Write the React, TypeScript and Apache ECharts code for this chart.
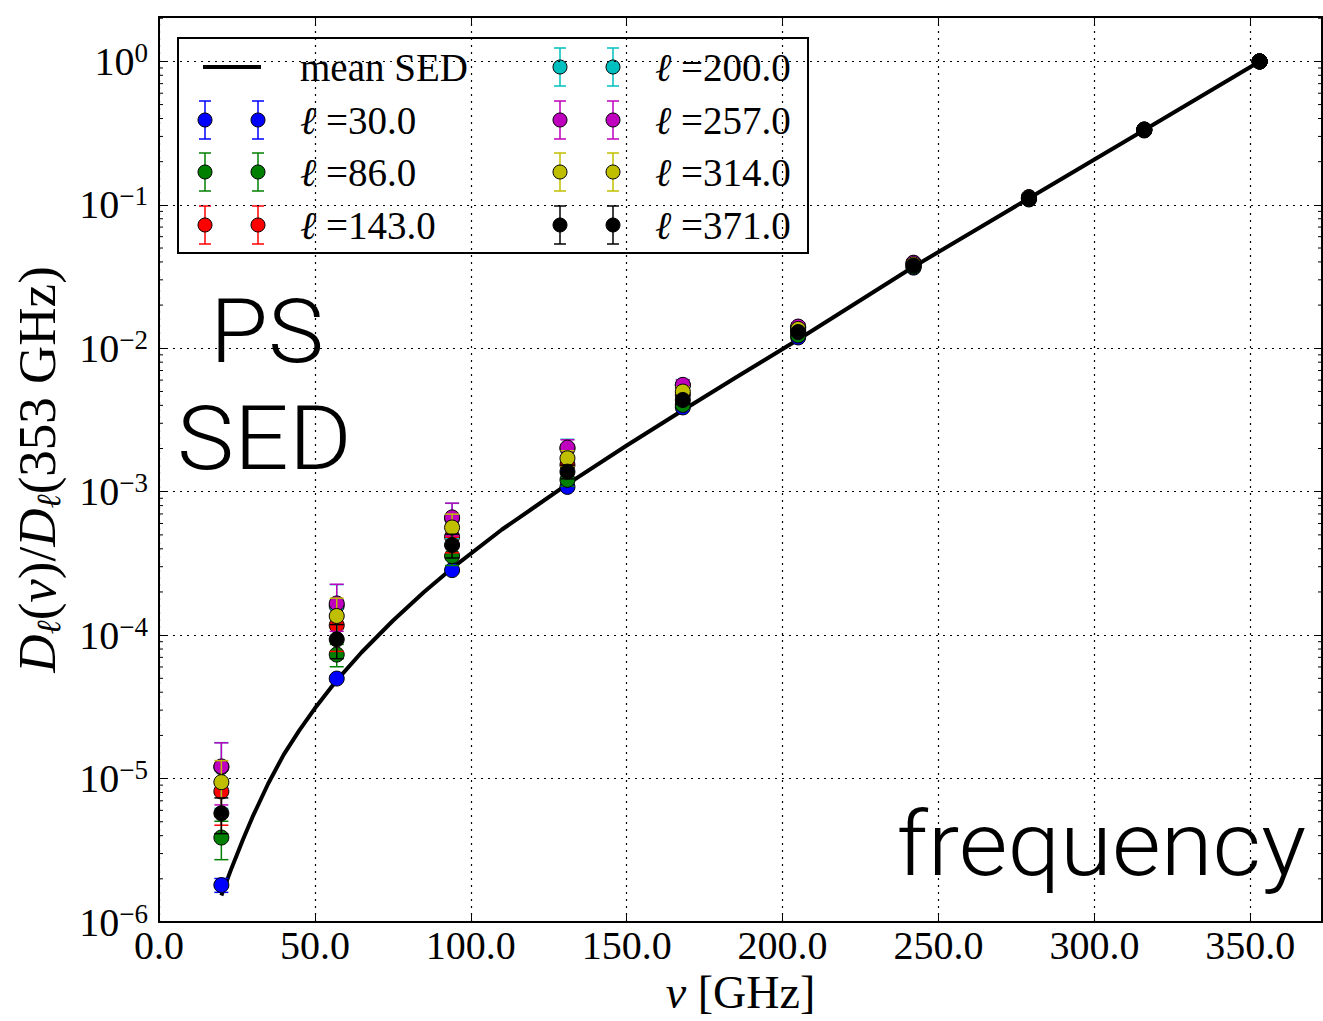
import React, { useEffect, useRef } from "react";
import * as echarts from "echarts";

// ---------- data ----------
const FREQS = [20, 57, 94, 131, 168, 205, 242, 279, 316, 353];
const ELL_LABELS = ["30.0", "86.0", "143.0", "200.0", "257.0", "314.0", "371.0"];
const COLORS = ["#0000ff", "#008000", "#ff0000", "#00bfbf", "#bf00bf", "#bfbf00", "#000000"];

const VAL_L30 = [1.81e-6, 4.98e-5, 2.84e-4, 1.08e-3, 3.87e-3, 1.19e-2, 3.65e-2, 0.109, 0.330, 1.0];
const ERR_L30 = [0.2e-6, 0.2e-5, 0.1e-4, 0.03e-3, 0.08e-3, 0.02e-2, 0.05e-2, 0.001, 0.003, 0.005];
const VAL_L86 = [3.88e-6, 7.32e-5, 3.56e-4, 1.21e-3, 4.03e-3, 1.23e-2, 3.7e-2, 0.110, 0.332, 1.0];
const ERR_L86 = [1.16e-6, 1.3e-5, 0.5e-4, 0.12e-3, 0.25e-3, 0.05e-2, 0.1e-2, 0.002, 0.004, 0.005];
const VAL_L143 = [8.13e-6, 1.17e-4, 4.85e-4, 1.54e-3, 4.73e-3, 1.32e-2, 3.8e-2, 0.111, 0.333, 1.0];
const ERR_L143 = [3.4e-6, 0.4e-4, 1.1e-4, 0.2e-3, 0.35e-3, 0.07e-2, 0.15e-2, 0.002, 0.004, 0.005];
const VAL_L200 = [1.2e-5, 1.6e-4, 6.5e-4, 2.0e-3, 5.5e-3, 1.4e-2, 3.93e-2, 0.113, 0.335, 1.0];
const ERR_L200 = [0.58e-5, 0.65e-4, 1.8e-4, 0.32e-3, 0.55e-3, 0.1e-2, 0.2e-2, 0.003, 0.005, 0.005];
const VAL_L257 = [1.215e-5, 1.663e-4, 6.62e-4, 2.03e-3, 5.56e-3, 1.417e-2, 3.95e-2, 0.113, 0.335, 1.0];
const ERR_L257 = [0.56e-5, 0.6e-4, 1.7e-4, 0.27e-3, 0.47e-3, 0.09e-2, 0.18e-2, 0.003, 0.005, 0.005];
const VAL_L314 = [9.44e-6, 1.36e-4, 5.63e-4, 1.71e-3, 4.99e-3, 1.365e-2, 3.85e-2, 0.112, 0.334, 1.0];
const ERR_L314 = [3.9e-6, 0.45e-4, 1.35e-4, 0.22e-3, 0.4e-3, 0.08e-2, 0.15e-2, 0.002, 0.004, 0.005];
const VAL_L371 = [5.73e-6, 9.35e-5, 4.25e-4, 1.38e-3, 4.36e-3, 1.297e-2, 3.77e-2, 0.111, 0.334, 1.0];
const ERR_L371 = [1.6e-6, 0.25e-4, 0.8e-4, 0.15e-3, 0.3e-3, 0.06e-2, 0.12e-2, 0.002, 0.004, 0.005];

const ALL_VALS = [VAL_L30, VAL_L86, VAL_L143, VAL_L200, VAL_L257, VAL_L314, VAL_L371];
const ALL_ERRS = [ERR_L30, ERR_L86, ERR_L143, ERR_L200, ERR_L257, ERR_L314, ERR_L371];

const SED_FREQS = [20, 23, 27, 30, 35, 40, 45, 50, 57, 65, 75, 85, 94, 110, 120, 131, 150, 168, 185, 205, 242, 279, 316, 353];
const SED_VALS = [
  1.53e-6, 2.29e-6, 3.79e-6, 5.4e-6, 9.2e-6, 1.47e-5, 2.17e-5, 3.09e-5, 4.84e-5, 7.6e-5, 1.26e-4, 2.0e-4, 2.93e-4,
  5.45e-4, 7.7e-4, 1.13e-3, 2.1e-3, 3.7e-3, 6.25e-3, 1.15e-2, 3.7e-2, 0.111, 0.333, 1.0,
];

const X_MIN = 0;
const X_MAX = 373;
const X_INTERVAL = 50;
const Y_MIN = 1e-6;
const Y_MAX = 2.04;
const Y_DECADES = [-6, -5, -4, -3, -2, -1, 0];

const SERIF = "'Liberation Serif', 'DejaVu Serif', serif";
const SANS_LIGHT = "Roboto, Lato, 'Open Sans', sans-serif";

export default function App() {
  const ref = useRef<HTMLDivElement>(null);

  useEffect(() => {
    if (!ref.current) return;
    const chart = echarts.init(ref.current, null, { renderer: "svg" });

    const minorVals: number[][] = [];
    Y_DECADES.forEach((e) => {
      for (let m = 2; m <= 9; m++) {
        const v = m * Math.pow(10, e);
        if (v < Y_MAX) minorVals.push([0, v]);
      }
    });

    const series: any[] = [];
    series.push({
      type: "line",
      name: "mean SED",
      data: SED_FREQS.map((f, i) => [f, SED_VALS[i]]),
      smooth: false,
      showSymbol: false,
      lineStyle: { color: "#000", width: 4, join: "round", cap: "butt" },
      z: 2,
    });

    ALL_VALS.forEach((vals, k) => {
      const color = COLORS[k];
      series.push({
        type: "custom",
        name: "err" + k,
        data: FREQS.map((f, i) => [f, vals[i], ALL_ERRS[k][i]]),
        encode: { x: 0, y: 1 },
        z: 3 + 2 * k,
        renderItem: (params: any, api: any) => {
          const x = api.value(0);
          const v = api.value(1);
          const e = api.value(2);
          const top = api.coord([x, v + e]);
          const lo = v - e > 0 ? v - e : Y_MIN;
          const bot = api.coord([x, lo]);
          const w = 7;
          const st = { stroke: color, lineWidth: 1.5 };
          return {
            type: "group",
            children: [
              { type: "line", shape: { x1: top[0], y1: top[1], x2: bot[0], y2: bot[1] }, style: st },
              { type: "line", shape: { x1: top[0] - w, y1: top[1], x2: top[0] + w, y2: top[1] }, style: st },
              { type: "line", shape: { x1: bot[0] - w, y1: bot[1], x2: bot[0] + w, y2: bot[1] }, style: st },
            ],
          };
        },
      });
      series.push({
        type: "scatter",
        name: "ℓ =" + ELL_LABELS[k],
        data: FREQS.map((f, i) => [f, vals[i]]),
        symbol: "circle",
        symbolSize: 15,
        itemStyle: { color, borderColor: "#000", borderWidth: 1, opacity: 1 },
        z: 4 + 2 * k,
      });
    });

    series.push({
      type: "custom",
      name: "minorTicks",
      data: minorVals,
      encode: { x: 0, y: 1 },
      z: 30,
      silent: true,
      renderItem: (params: any, api: any) => {
        const y = api.coord([0, api.value(1)])[1];
        const cs = params.coordSys;
        const st = { stroke: "#000", lineWidth: 1 };
        return {
          type: "group",
          children: [
            { type: "line", shape: { x1: cs.x, y1: y, x2: cs.x + 4, y2: y }, style: st },
            { type: "line", shape: { x1: cs.x + cs.width - 4, y1: y, x2: cs.x + cs.width, y2: y }, style: st },
          ],
        };
      },
    });

    // legend as graphic
    const ROW_Y = [67, 120, 172, 225];
    const COL_MARK = [
      [205, 258],
      [560, 613],
    ];
    const COL_TEXT = [300, 655];
    const legendChildren: any[] = [
      {
        type: "rect",
        shape: { x: 178, y: 38, width: 630, height: 215 },
        style: { fill: "#fff", stroke: "#000", lineWidth: 2 },
      },
      {
        type: "line",
        shape: { x1: 203, y1: ROW_Y[0], x2: 261, y2: ROW_Y[0] },
        style: { stroke: "#000", lineWidth: 4 },
      },
      {
        type: "text",
        x: COL_TEXT[0],
        y: ROW_Y[0],
        style: { text: "mean SED", fontFamily: SERIF, fontSize: 39, fill: "#000", verticalAlign: "middle", align: "left" },
      },
    ];
    ELL_LABELS.forEach((lab, k) => {
      const idx = k + 1;
      const col = idx < 4 ? 0 : 1;
      const row = idx % 4;
      const y = ROW_Y[row];
      COL_MARK[col].forEach((mx) => {
        const st = { stroke: COLORS[k], lineWidth: 1.5 };
        legendChildren.push(
          { type: "line", shape: { x1: mx, y1: y - 19, x2: mx, y2: y + 19 }, style: st },
          { type: "line", shape: { x1: mx - 6, y1: y - 19, x2: mx + 6, y2: y - 19 }, style: st },
          { type: "line", shape: { x1: mx - 6, y1: y + 19, x2: mx + 6, y2: y + 19 }, style: st },
          { type: "circle", shape: { cx: mx, cy: y, r: 7 }, style: { fill: COLORS[k], stroke: "#000", lineWidth: 1 } }
        );
      });
      legendChildren.push({
        type: "text",
        x: COL_TEXT[col],
        y,
        style: {
          text: "{l|ℓ}{n| =" + lab + "}",
          fontFamily: SERIF,
          fontSize: 39,
          fill: "#000",
          verticalAlign: "middle",
          align: "left",
          rich: {
            l: { fontFamily: SERIF, fontSize: 39, fontStyle: "italic", fill: "#000" },
            n: { fontFamily: SERIF, fontSize: 39, fill: "#000" },
          },
        },
      });
    });

    const yLabelFmt = (v: number) => {
      const lg = Math.log10(v);
      const n = Math.round(lg);
      if (Math.abs(lg - n) > 1e-6) return "";
      const s = n < 0 ? "−" + -n : String(n);
      return "{b|10}{s|" + s + "}";
    };

    const gridLine = { show: true, lineStyle: { color: "#000", width: 1.2, type: [2, 5] as any } };

    chart.setOption({
      animation: false,
      backgroundColor: "#fff",
      grid: { left: 159, right: 1, top: 17, bottom: 99, containLabel: false, outerBoundsMode: "none" } as any,
      xAxis: [
        {
          type: "value",
          min: X_MIN,
          max: X_MAX,
          interval: X_INTERVAL,
          position: "bottom",
          axisLine: { show: true, onZero: false, lineStyle: { color: "#000", width: 2 } },
          axisTick: { show: true, inside: true, length: 8, lineStyle: { color: "#000", width: 1 } },
          axisLabel: {
            show: true,
            showMaxLabel: false,
            margin: 3,
            color: "#000",
            fontFamily: SERIF,
            fontSize: 40,
            formatter: (v: number) => v.toFixed(1),
          },
          splitLine: gridLine,
          name: "{i|ν} {n|[GHz]}",
          nameLocation: "middle",
          nameGap: 47,
          nameTextStyle: {
            color: "#000",
            fontFamily: SERIF,
            fontSize: 46,
            lineHeight: 46,
            rich: {
              i: { fontFamily: SERIF, fontSize: 46, lineHeight: 46, fontStyle: "italic", color: "#000" },
              n: { fontFamily: SERIF, fontSize: 46, lineHeight: 46, color: "#000" },
            },
          },
        },
        {
          type: "value",
          min: X_MIN,
          max: X_MAX,
          interval: X_INTERVAL,
          position: "top",
          axisLine: { show: true, onZero: false, lineStyle: { color: "#000", width: 2 } },
          axisTick: { show: true, inside: true, length: 8, lineStyle: { color: "#000", width: 1 } },
          axisLabel: { show: false },
          splitLine: { show: false },
        },
      ],
      yAxis: [
        {
          type: "log",
          logBase: 10,
          min: Y_MIN,
          max: Y_MAX,
          position: "left",
          splitNumber: 6,
          axisLine: { show: true, onZero: false, lineStyle: { color: "#000", width: 2 } },
          axisTick: { show: true, inside: true, length: 8, lineStyle: { color: "#000", width: 1 } },
          axisLabel: {
            show: true,
            showMaxLabel: false,
            margin: 11,
            color: "#000",
            fontFamily: SERIF,
            fontSize: 40,
            formatter: yLabelFmt,
            rich: {
              b: { fontFamily: SERIF, fontSize: 40, lineHeight: 44, color: "#000" },
              s: { fontFamily: SERIF, fontSize: 27, lineHeight: 27, verticalAlign: "top", color: "#000" },
            },
          },
          splitLine: gridLine,
          name: "{i|D}{s|ℓ}{n|(}{i|ν}{n|)/}{i|D}{s|ℓ}{n|(353 GHz)}",
          nameLocation: "middle",
          nameRotate: 90,
          nameGap: 94,
          nameTextStyle: {
            color: "#000",
            fontFamily: SERIF,
            fontSize: 53,
            rich: {
              i: { fontFamily: SERIF, fontSize: 53, lineHeight: 56, fontStyle: "italic", color: "#000" },
              n: { fontFamily: SERIF, fontSize: 53, lineHeight: 56, color: "#000" },
              s: { fontFamily: SERIF, fontSize: 34, lineHeight: 34, fontStyle: "italic", verticalAlign: "bottom", color: "#000" },
            },
          },
        },
        {
          type: "log",
          logBase: 10,
          min: Y_MIN,
          max: Y_MAX,
          position: "right",
          splitNumber: 6,
          axisLine: { show: true, onZero: false, lineStyle: { color: "#000", width: 2 } },
          axisTick: { show: true, inside: true, length: 8, lineStyle: { color: "#000", width: 1 } },
          axisLabel: { show: false },
          splitLine: { show: false },
        },
      ],
      series,
      graphic: [
        { type: "group", z: 100, children: legendChildren },
        {
          type: "text",
          z: 100,
          x: 210,
          y: 331,
          scaleX: 1.06,
          style: { text: "PS", fontFamily: SANS_LIGHT, fontWeight: 300, fontSize: 89, fill: "#000", verticalAlign: "middle", align: "left" },
        },
        {
          type: "text",
          z: 100,
          x: 177,
          y: 439,
          scaleX: 1.08,
          style: { text: "SED", fontFamily: SANS_LIGHT, fontWeight: 300, fontSize: 89, fill: "#000", verticalAlign: "middle", align: "left" },
        },
        {
          type: "text",
          z: 100,
          x: 1306,
          y: 844,
          scaleX: 1.06,
          style: { text: "frequency", fontFamily: SANS_LIGHT, fontWeight: 300, fontSize: 89, fill: "#000", verticalAlign: "middle", align: "right" },
        },
      ],
    });

    return () => chart.dispose();
  }, []);

  return <div ref={ref} style={{ position: "absolute", left: 0, top: 0, width: 1323, height: 1021, background: "#fff" }} />;
}
